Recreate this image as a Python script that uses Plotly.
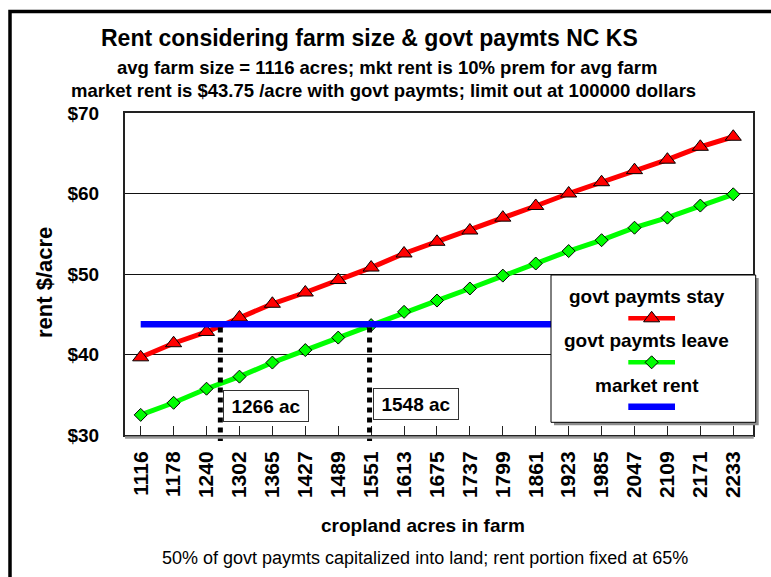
import numpy as np
import plotly.graph_objects as go

# ---------------- data ----------------
acres = [1116, 1178, 1240, 1302, 1365, 1427, 1489, 1551, 1613, 1675,
         1737, 1799, 1861, 1923, 1985, 2047, 2109, 2171, 2233]
tick_labels = [str(a) for a in acres]
rent_stay = [39.65, 41.4, 42.8, 44.6, 46.3, 47.7, 49.25, 50.8, 52.55, 54.0,
             55.4, 57.0, 58.45, 60.0, 61.4, 62.9, 64.2, 65.8, 67.05]
rent_leave = [32.5, 34.0, 35.75, 37.25, 39.0, 40.55, 42.1, 43.65, 45.3, 46.7,
              48.2, 49.8, 51.3, 52.85, 54.2, 55.75, 57.0, 58.5, 59.9]
market_rent = [43.75] * len(acres)
y_ticks = [30, 40, 50, 60, 70]
y_tick_labels = ["$30", "$40", "$50", "$60", "$70"]
breakeven_acres = [1266, 1548]
breakeven_labels = ["1266 ac", "1548 ac"]
series_names = ["govt paymts stay", "govt paymts leave", "market rent"]

title_lines = [
    "Rent considering farm size & govt paymts NC KS",
    "avg farm size = 1116 acres; mkt rent is 10% prem for avg farm",
    "market rent is $43.75 /acre with govt paymts; limit out at 100000 dollars",
]
x_title = "cropland acres in farm"
y_title = "rent $/acre"
footnote = "50% of govt paymts capitalized into land; rent portion fixed at 65%"

# ---------------- layout geometry (pixels) ----------------
W, H = 771, 577
PL, PR, PT, PB = 125, 752.7, 113, 435
YMIN, YMAX = 30, 70
FONT = "Liberation Sans, Arial, sans-serif"
TRI_SIZE, DIA_SIZE = 14, 10


def fx(px):
    return px / W


def fy(py):
    return 1 - py / H


idx = list(range(len(acres)))


def acre_to_idx(a):
    return float(np.interp(a, acres, idx))


def val_to_paper(v):
    return fy(PB) + (v - YMIN) / (YMAX - YMIN) * (fy(PT) - fy(PB))


RED, GREEN, BLUE = "#FF0000", "#00FF00", "#0000FF"

fig = go.Figure()

# data traces
fig.add_trace(go.Scatter(x=idx, y=rent_stay, mode="lines+markers",
                         line=dict(color=RED, width=5),
                         marker=dict(symbol="triangle-up", size=TRI_SIZE, color=RED,
                                     line=dict(color="black", width=1)),
                         name=series_names[0]))
fig.add_trace(go.Scatter(x=idx, y=rent_leave, mode="lines+markers",
                         line=dict(color=GREEN, width=5),
                         marker=dict(symbol="diamond", size=DIA_SIZE, color=GREEN,
                                     line=dict(color="black", width=1)),
                         name=series_names[1]))
fig.add_trace(go.Scatter(x=idx, y=market_rent, mode="lines",
                         line=dict(color=BLUE, width=6.5), name=series_names[2]))

# custom legend on a pixel overlay subplot
LX0, LY0, LX1, LY1 = 551, 275, 755.7, 422.3
fig.add_trace(go.Scatter(x=[LX0 + 3, LX1 + 3, LX1 + 3, LX0 + 3, LX0 + 3],
                         y=[LY0 + 3, LY0 + 3, LY1 + 3, LY1 + 3, LY0 + 3],
                         mode="lines", fill="toself", fillcolor="#8c8c8c",
                         line=dict(width=0, color="#8c8c8c"),
                         xaxis="x2", yaxis="y2", hoverinfo="skip"))
fig.add_trace(go.Scatter(x=[LX0, LX1, LX1, LX0, LX0],
                         y=[LY0, LY0, LY1, LY1, LY0],
                         mode="lines", fill="toself", fillcolor="white",
                         line=dict(width=1, color="black"),
                         xaxis="x2", yaxis="y2", hoverinfo="skip"))
SX0, SX1 = 628.3, 675
SXC = (SX0 + SX1) / 2
sample_y = [318.3, 362.3, 406.7]
fig.add_trace(go.Scatter(x=[SX0, SX1], y=[sample_y[0]] * 2, mode="lines",
                         line=dict(color=RED, width=4.5), xaxis="x2", yaxis="y2"))
fig.add_trace(go.Scatter(x=[SXC], y=[sample_y[0]], mode="markers",
                         marker=dict(symbol="triangle-up", size=TRI_SIZE, color=RED,
                                     line=dict(color="black", width=1)),
                         xaxis="x2", yaxis="y2"))
fig.add_trace(go.Scatter(x=[SX0, SX1], y=[sample_y[1]] * 2, mode="lines",
                         line=dict(color=GREEN, width=4.5), xaxis="x2", yaxis="y2"))
fig.add_trace(go.Scatter(x=[SXC], y=[sample_y[1]], mode="markers",
                         marker=dict(symbol="diamond", size=DIA_SIZE, color=GREEN,
                                     line=dict(color="black", width=1)),
                         xaxis="x2", yaxis="y2"))
fig.add_trace(go.Scatter(x=[SX0, SX1], y=[sample_y[2]] * 2, mode="lines",
                         line=dict(color=BLUE, width=6.5), xaxis="x2", yaxis="y2"))

annotations = []
legend_text_y = [296.7, 340, 385]
for name, ty in zip(series_names, legend_text_y):
    annotations.append(dict(text=name, xref="paper", yref="paper", x=fx(646.5), y=fy(ty),
                            xanchor="center", yanchor="middle", showarrow=False,
                            font=dict(family=FONT, size=19, color="black", weight="bold")))

# titles
title_pos = [(369, 38, 23), (386.5, 67, 18.5), (383.5, 90, 18.5)]
for txt, (cx, cy, sz) in zip(title_lines, title_pos):
    annotations.append(dict(text=txt, xref="paper", yref="paper", x=fx(cx), y=fy(cy),
                            xanchor="center", yanchor="middle", showarrow=False,
                            font=dict(family=FONT, size=sz, color="black", weight="bold")))
annotations.append(dict(text=x_title, xref="paper", yref="paper", x=fx(423), y=fy(525),
                        xanchor="center", yanchor="middle", showarrow=False,
                        font=dict(family=FONT, size=19, color="black", weight="bold")))
annotations.append(dict(text=footnote, xref="paper", yref="paper", x=fx(425), y=fy(558),
                        xanchor="center", yanchor="middle", showarrow=False,
                        font=dict(family=FONT, size=18, color="black")))
annotations.append(dict(text=y_title, xref="paper", yref="paper", x=fx(44), y=fy(283),
                        xanchor="center", yanchor="middle", showarrow=False, textangle=-90,
                        font=dict(family=FONT, size=22, color="black", weight="bold")))

# break-even markers (dotted drops from the market-rent line to the axis)
shapes = []
label_y = [406, 404]
for a, lab, ly in zip(breakeven_acres, breakeven_labels, label_y):
    xi = acre_to_idx(a)
    shapes.append(dict(type="line", xref="x", yref="paper", x0=xi, x1=xi,
                       y0=val_to_paper(market_rent[0]) - 3.3 / H, y1=fy(441),
                       line=dict(color="black", width=5, dash="dot"), layer="above"))
    annotations.append(dict(text=lab, xref="x", yref="paper", x=xi, y=fy(ly),
                            xanchor="left", yanchor="middle", xshift=3, showarrow=False,
                            bgcolor="white", bordercolor="#333", borderwidth=1, borderpad=4,
                            width=76, height=22,
                            font=dict(family=FONT, size=19, color="black", weight="bold")))

# shadow under x axis and outer frame
shapes.append(dict(type="line", xref="paper", yref="paper", x0=fx(PL), x1=fx(PR + 1),
                   y0=fy(PB + 2.5), y1=fy(PB + 2.5), line=dict(color="#9a9a9a", width=2.5)))
shapes.append(dict(type="rect", xref="paper", yref="paper", x0=fx(10), x1=fx(810),
                   y0=fy(600), y1=fy(11.5), line=dict(color="black", width=3.5)))

x_lo = (PL - 140.7) / 32.92
x_hi = (PR - 140.7) / 32.92

fig.update_layout(
    width=W, height=H, autosize=False,
    margin=dict(l=0, r=0, t=0, b=0, pad=0, autoexpand=False),
    paper_bgcolor="white", plot_bgcolor="rgba(0,0,0,0)",
    showlegend=False,
    font=dict(family=FONT, color="black"),
    xaxis=dict(domain=[fx(PL), fx(PR)], range=[x_lo, x_hi], tickmode="array",
               tickvals=idx, ticktext=tick_labels, tickangle=-90, automargin=False,
               ticks="inside", ticklen=9, tickwidth=1, tickcolor="#222",
               showline=True, linecolor="#222", linewidth=2, mirror=True,
               showgrid=False, zeroline=False, ticklabelstandoff=6,
               tickfont=dict(family=FONT, size=21, color="black", weight="bold")),
    yaxis=dict(domain=[fy(PB), fy(PT)], range=[YMIN, YMAX], tickmode="array",
               tickvals=y_ticks, ticktext=y_tick_labels, automargin=False,
               ticks="", showline=True, linecolor="#222", linewidth=2, mirror=True,
               showgrid=True, gridcolor="#111", gridwidth=1, zeroline=False,
               ticklabelstandoff=20,
               tickfont=dict(family=FONT, size=19, color="black", weight="bold")),
    xaxis2=dict(domain=[0, 1], range=[0, W], visible=False, anchor="y2", automargin=False),
    yaxis2=dict(domain=[0, 1], range=[H, 0], visible=False, anchor="x2", automargin=False),
    annotations=annotations,
    shapes=shapes,
)

fig.write_html("out.html", config={"displayModeBar": False},
               post_script="document.body.style.margin='0';document.body.style.overflow='hidden';")
